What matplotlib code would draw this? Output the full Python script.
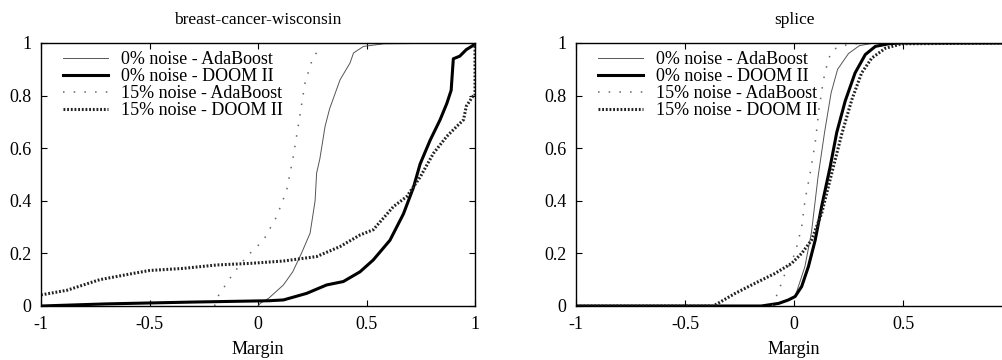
import matplotlib
matplotlib.use("Agg")
import matplotlib.pyplot as plt
import numpy as np

plt.rcParams['font.family'] = ['Liberation Serif', 'DejaVu Serif']

# breast-cancer-wisconsin: cumulative margin distributions (x, y)
bcw_ada0_x = [0.0, 0.01, 0.05, 0.117, 0.16, 0.2, 0.24, 0.263, 0.27, 0.285, 0.309, 0.33, 0.378, 0.424, 0.44, 0.486, 0.58, 1.0]
bcw_ada0_y = [0.0, 0.01, 0.03, 0.08, 0.13, 0.2, 0.277, 0.40, 0.505, 0.56, 0.683, 0.75, 0.86, 0.924, 0.962, 0.987, 0.997, 1.0]

bcw_doom0_x = [-1.0, -0.7, -0.3, 0.05, 0.117, 0.224, 0.316, 0.393, 0.47, 0.531, 0.608, 0.67, 0.716, 0.747, 0.793,
               0.839, 0.87, 0.89, 0.90, 0.93, 0.96, 0.99, 1.0]
bcw_doom0_y = [0.0, 0.008, 0.015, 0.02, 0.023, 0.048, 0.08, 0.093, 0.13, 0.175, 0.25, 0.35, 0.45, 0.54, 0.63,
               0.708, 0.77, 0.82, 0.94, 0.95, 0.975, 0.99, 1.0]

bcw_ada15_x = [-0.2, -0.19, -0.114, -0.052, 0.025, 0.086, 0.132, 0.163, 0.194, 0.217, 0.255, 0.286]
bcw_ada15_y = [0.0, 0.03, 0.124, 0.188, 0.25, 0.34, 0.44, 0.57, 0.73, 0.85, 0.95, 0.975]

bcw_doom15_x = [-1.0, -0.88, -0.73, -0.575, -0.5, -0.344, -0.19, -0.037, 0.117, 0.27, 0.378, 0.47, 0.531, 0.624,
                0.685, 0.747, 0.808, 0.87, 0.916, 0.947, 0.96, 0.99, 1.0, 1.0]
bcw_doom15_y = [0.042, 0.06, 0.10, 0.124, 0.135, 0.143, 0.156, 0.162, 0.171, 0.188, 0.226, 0.27, 0.29, 0.378,
                0.416, 0.49, 0.58, 0.645, 0.683, 0.708, 0.76, 0.797, 0.80, 1.0]

# splice
spl_ada0_x = [-1.0, -0.1, 0.005, 0.05, 0.08, 0.11, 0.14, 0.17, 0.2, 0.25, 0.3, 0.37, 1.0]
spl_ada0_y = [0.0, 0.0, 0.036, 0.15, 0.28, 0.49, 0.66, 0.81, 0.9, 0.96, 0.99, 1.0, 1.0]

spl_doom0_x = [-1.0, -0.15, -0.07, -0.026, 0.005, 0.035, 0.066, 0.097, 0.127, 0.166, 0.196, 0.235, 0.28, 0.327,
               0.373, 0.434, 0.49, 1.0]
spl_doom0_y = [0.0, 0.0, 0.01, 0.023, 0.036, 0.074, 0.15, 0.25, 0.38, 0.53, 0.66, 0.78, 0.886, 0.956,
               0.987, 0.997, 1.0, 1.0]

spl_ada15_x = [-0.1, -0.072, -0.041, 0.005, 0.035, 0.05, 0.074, 0.097, 0.115, 0.135, 0.158, 0.18, 0.22, 0.31]
spl_ada15_y = [0.0, 0.055, 0.124, 0.2, 0.3, 0.4, 0.505, 0.62, 0.75, 0.86, 0.94, 0.975, 0.99, 1.0]

spl_doom15_x = [-1.0, -0.37, -0.27, -0.18, -0.087, -0.011, 0.035, 0.08, 0.127, 0.173, 0.22, 0.265, 0.31, 0.357,
                0.419, 0.495, 1.0]
spl_doom15_y = [0.0, 0.0, 0.048, 0.086, 0.124, 0.162, 0.2, 0.25, 0.353, 0.505, 0.657, 0.784, 0.886, 0.943,
                0.98, 0.997, 1.0]

labels = ['0% noise - AdaBoost', '0% noise - DOOM II', '15% noise - AdaBoost', '15% noise - DOOM II']
xticks = [-1, -0.5, 0, 0.5, 1]
xticklabels = ['-1', '-0.5', '0', '0.5', '1']
yticks = [0, 0.2, 0.4, 0.6, 0.8, 1]
yticklabels = ['0', '0.2', '0.4', '0.6', '0.8', '1']

fig = plt.figure(figsize=(10.03, 3.6), dpi=100)
ax1 = fig.add_axes([0.0409, 0.15, 0.4327, 0.7306])
ax2 = fig.add_axes([0.5743, 0.15, 0.4347, 0.7306])


def draw(ax, title, curves, xlabels):
    (a0x, a0y), (d0x, d0y), (a15x, a15y), (d15x, d15y) = curves
    ax.plot(a0x, a0y, color='#555555', lw=0.7, label=labels[0])
    ax.plot(d0x, d0y, color='black', lw=2.2, label=labels[1])
    ax.plot(a15x, a15y, color='#666666', lw=1.1, linestyle=(0, (1, 6)), label=labels[2])
    ax.plot(d15x, d15y, color='#222222', lw=2.2, linestyle=(0, (0.6, 0.6)), label=labels[3])
    ax.set_xlim(-1, 1)
    ax.set_ylim(0, 1)
    ax.set_xticks(xticks)
    ax.set_xticklabels(xlabels)
    ax.set_yticks(yticks)
    ax.set_yticklabels(yticklabels)
    ax.tick_params(direction='in', top=True, right=True, length=4, width=0.8, labelsize=13, pad=7)
    for s in ax.spines.values():
        s.set_linewidth(1.0)
    ax.set_title(title, fontsize=12.5, pad=14)
    ax.set_xlabel('Margin', fontsize=13, labelpad=6)
    ax.legend(loc='upper left', bbox_to_anchor=(0.05, 0.97), frameon=False, fontsize=13,
              handlelength=2.5, borderaxespad=0, labelspacing=0.0, handletextpad=0.7, borderpad=0)


draw(ax1, 'breast-cancer-wisconsin',
     [(bcw_ada0_x, bcw_ada0_y), (bcw_doom0_x, bcw_doom0_y), (bcw_ada15_x, bcw_ada15_y), (bcw_doom15_x, bcw_doom15_y)],
     xticklabels)
# the right panel runs past the image edge, so its "1" label is not shown
draw(ax2, 'splice',
     [(spl_ada0_x, spl_ada0_y), (spl_doom0_x, spl_doom0_y), (spl_ada15_x, spl_ada15_y), (spl_doom15_x, spl_doom15_y)],
     xticklabels[:-1] + [''])

fig.savefig('out.png', dpi=100)
